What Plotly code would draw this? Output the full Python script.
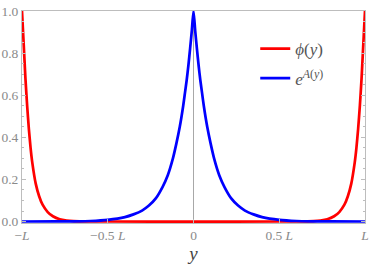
import plotly.graph_objects as go

# phi(y): rises steeply near both walls
x_phi = [-1.0, -0.995, -0.99, -0.985, -0.98, -0.97, -0.96, -0.95, -0.94, -0.92,
         -0.9, -0.88, -0.85, -0.82, -0.78, -0.74, -0.7, -0.6, -0.5, 0.0,
         0.5, 0.6, 0.7, 0.74, 0.78, 0.82, 0.85, 0.88, 0.9, 0.92,
         0.94, 0.95, 0.96, 0.97, 0.98, 0.985, 0.99, 0.995, 1.0]
phi = [1.0, 0.92, 0.84, 0.76, 0.68, 0.55, 0.44, 0.35, 0.28, 0.18,
       0.12, 0.08, 0.045, 0.025, 0.011, 0.005, 0.002, 0.0003, 0.00003, 0.0,
       0.00003, 0.0003, 0.002, 0.005, 0.011, 0.025, 0.045, 0.08, 0.12, 0.18,
       0.28, 0.35, 0.44, 0.55, 0.68, 0.76, 0.84, 0.92, 1.0]

# e^{A(y)}: sharp peak at the centre
x_warp = [-1.0, -0.8, -0.7, -0.6, -0.5, -0.4, -0.35, -0.3, -0.26, -0.22,
          -0.18, -0.15, -0.12, -0.1, -0.08, -0.06, -0.05, -0.04, -0.03, -0.02,
          -0.01, 0.0, 0.01, 0.02, 0.03, 0.04, 0.05, 0.06, 0.08, 0.1,
          0.12, 0.15, 0.18, 0.22, 0.26, 0.3, 0.35, 0.4, 0.5, 0.6,
          0.7, 0.8, 1.0]
warp = [0.00005, 0.0003, 0.0009, 0.0025, 0.008, 0.021, 0.034, 0.052, 0.076, 0.11,
        0.165, 0.22, 0.30, 0.37, 0.45, 0.55, 0.61, 0.67, 0.74, 0.82,
        0.905, 1.0, 0.905, 0.82, 0.74, 0.67, 0.61, 0.55, 0.45, 0.37,
        0.30, 0.22, 0.165, 0.11, 0.076, 0.052, 0.034, 0.021, 0.008, 0.0025,
        0.0009, 0.0003, 0.00005]

x_tickvals = [-1, -0.5, 0, 0.5, 1]
x_ticktext = ["\u2212<i>L</i>", "\u22120.5 <i>L</i>", "0", "0.5 <i>L</i>", "<i>L</i>"]
y_tickvals = [0, 0.2, 0.4, 0.6, 0.8, 1.0]
y_ticktext = ["0.0", "0.2", "0.4", "0.6", "0.8", "1.0"]

serif = "Liberation Serif, DejaVu Serif, serif"
grey = "#8a8a8a"
frame = "#bdbdbd"

fig = go.Figure()
fig.add_trace(go.Scatter(x=x_phi, y=phi, mode="lines", name="<i>\u03d5</i>(<i>y</i>)",
                         legendgroup="phi",
                         line=dict(color="#ff0000", width=2.7, shape="spline", smoothing=0.6)))
fig.add_trace(go.Scatter(x=x_warp, y=warp, mode="lines", name="<i>e</i><sup><i>A</i>(<i>y</i>)</sup>",
                         legendgroup="warp",
                         line=dict(color="#0000ff", width=2.7, shape="spline", smoothing=0.6)))

fig.update_layout(
    width=374, height=267,
    margin=dict(l=22, r=9, t=11, b=44, autoexpand=False),
    paper_bgcolor="white", plot_bgcolor="white",
    font=dict(family=serif, color=grey, size=12),
    showlegend=True,
    legend=dict(x=0.68, y=0.905, xanchor="left", yanchor="top",
                bgcolor="rgba(0,0,0,0)", font=dict(family=serif, size=17, color="#555555"),
                itemwidth=30, tracegroupgap=4.4),
)
fig.update_xaxes(
    range=[-1, 1], tickvals=x_tickvals, ticktext=x_ticktext, automargin=False,
    showgrid=False, zeroline=True, zerolinecolor="#a8a8a8", zerolinewidth=1,
    showline=True, linecolor=frame, linewidth=1, mirror=True,
    ticks="inside", ticklen=4, tickcolor=frame,
    tickfont=dict(family=serif, size=13.5, color=grey),
    title=dict(text="<i>y</i>", font=dict(family=serif, size=19, color="#444444"), standoff=1),
)
fig.update_yaxes(
    range=[-0.007, 1.0], tickvals=y_tickvals, ticktext=y_ticktext, automargin=False,
    showgrid=False, zeroline=False,
    showline=True, linecolor=frame, linewidth=1, mirror="ticks",
    ticks="inside", ticklen=4, tickcolor=frame,
    minor=dict(dtick=0.05, ticks="inside", ticklen=2, tickcolor=frame),
    tickfont=dict(family=serif, size=13.5, color=grey),
)

fig.write_html("out.html", config={"displayModeBar": False},
               post_script="document.body.style.margin='0px';")
